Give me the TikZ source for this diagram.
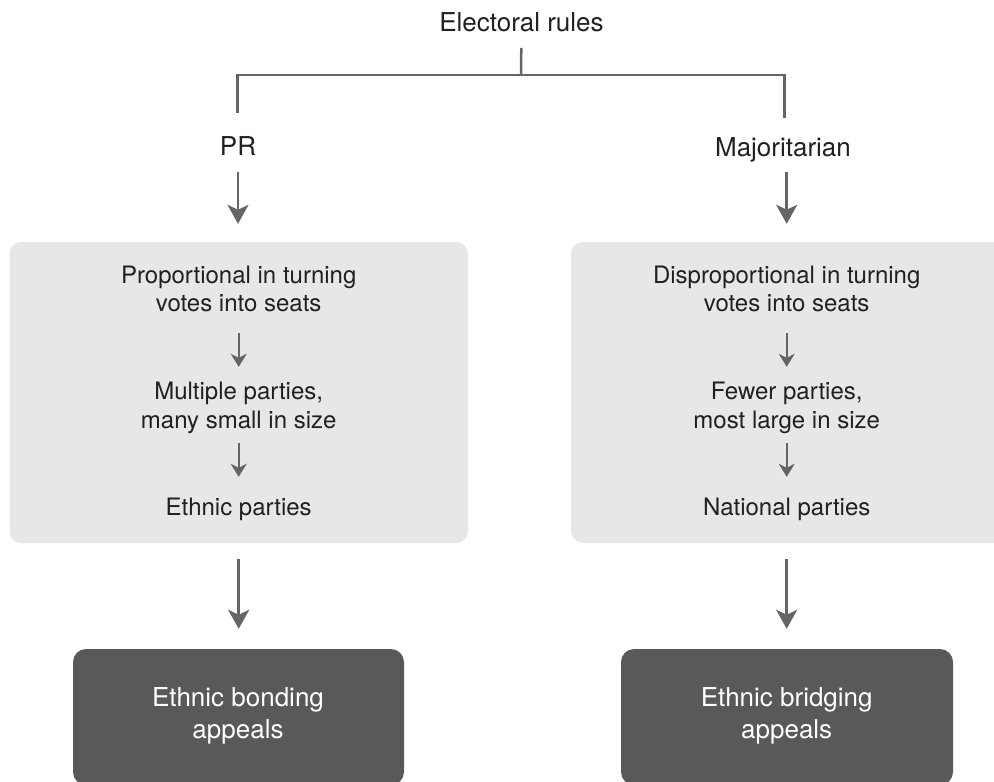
\documentclass[tikz,border=0pt]{standalone}
\usepackage{fontspec}
\setmainfont{TeX Gyre Heros}
\usetikzlibrary{arrows.meta}
\definecolor{linegray}{HTML}{646567}
\definecolor{panelgray}{HTML}{E6E7E8}
\definecolor{darkpanel}{HTML}{58595B}
\definecolor{ink}{HTML}{231F20}
\begin{document}
\begin{tikzpicture}[x=1pt,y=-1pt,
  toplabel/.style={font=\fontsize{26}{31}\selectfont, text=ink, inner sep=0pt,
    anchor=base, text depth=0pt, text height=18.7pt},
  boxline/.style={font=\fontsize{24}{28.5}\selectfont, text=ink, inner sep=0pt,
    anchor=base, text depth=0pt, text height=17.2pt},
  darkline/.style={font=\fontsize{26}{31}\selectfont, text=white, inner sep=0pt,
    anchor=base},
  panel/.style={fill=panelgray, rounded corners=12pt, inner sep=0pt},
  darkbox/.style={fill=darkpanel, rounded corners=13pt, inner sep=0pt},
  bracket/.style={draw=linegray, line width=2.5pt},
  bigarrow/.style={draw=linegray, line width=2.5pt,
    -{Stealth[length=19pt,width=21pt,inset=5pt]}},
  smallarrow/.style={draw=linegray, line width=2pt,
    -{Stealth[length=13pt,width=16pt,inset=4pt]}},
]
\useasboundingbox (0,0) rectangle (994,782);
\clip (0,0) rectangle (994,782);

% panels
\node[panel, minimum width=458.5pt, minimum height=301pt] (lpanel) at (238.75,392.5) {};
\node[panel, minimum width=459pt, minimum height=301pt] (rpanel) at (800.5,392.5) {};
\node[darkbox, minimum width=331pt, minimum height=136pt] (ldark) at (238.5,717) {};
\node[darkbox, minimum width=332pt, minimum height=136pt] (rdark) at (787,717) {};

% headings
\node[toplabel] (er) at (521.5,31) {Electoral rules};
\node[toplabel] (pr) at (238,155.5) {PR};
\node[toplabel] (maj) at (783,156) {Majoritarian};

% left panel text
\node[boxline] (l1a) at (238.7,283.3) {Proportional in turning};
\node[boxline] (l1b) at (238.7,311.7) {votes into seats};
\node[boxline] (l2a) at (238.7,399.3) {Multiple parties,};
\node[boxline] (l2b) at (238.7,428.3) {many small in size};
\node[boxline] (l3)  at (238.7,515)   {Ethnic parties};

% right panel text
\node[boxline] (r1a) at (786.7,283.3) {Disproportional in turning};
\node[boxline] (r1b) at (786.7,311.7) {votes into seats};
\node[boxline] (r2a) at (786.7,399.3) {Fewer parties,};
\node[boxline] (r2b) at (786.7,428.3) {most large in size};
\node[boxline] (r3)  at (786.7,515)   {National parties};

% outcome boxes text
\node[darkline] (lo1) at (238,706.7) {Ethnic bonding};
\node[darkline] (lo2) at (238,738.3) {appeals};
\node[darkline] (ro1) at (786.7,706.7) {Ethnic bridging};
\node[darkline] (ro2) at (786.7,738.3) {appeals};

% bracket from the heading to the two rule types
\coordinate (bar) at (521,75);
\coordinate (prstem) at (237.3,113);
\coordinate (majstem) at (784.3,118);
\draw[bracket, shorten <=16.7pt] (er.south) -- (bar);
\draw[bracket] (prstem) |- (bar) -| (majstem);

% arrows into the panels
\draw[bigarrow, shorten <=16pt, shorten >=18pt] (pr.south) -- (pr.south |- lpanel.north);
\draw[bigarrow, shorten <=16pt, shorten >=18pt] (r1a |- maj.south) -- (r1a |- rpanel.north);

% arrows inside the panels
\draw[smallarrow, shorten <=21.3pt, shorten >=15.1pt] (l1b.south) -- (l2a.north);
\draw[smallarrow, shorten <=14.7pt, shorten >=20.8pt] (l2b.south) -- (l3.north);
\draw[smallarrow, shorten <=21.3pt, shorten >=15.1pt] (r1b.south) -- (r2a.north);
\draw[smallarrow, shorten <=14.7pt, shorten >=20.8pt] (r2b.south) -- (r3.north);

% arrows to the outcome boxes
\draw[bigarrow, shorten <=16pt, shorten >=20pt] (l3 |- lpanel.south) -- (l3 |- ldark.north);
\draw[bigarrow, shorten <=16pt, shorten >=20pt] (r3 |- rpanel.south) -- (r3 |- rdark.north);
\end{tikzpicture}
\end{document}
